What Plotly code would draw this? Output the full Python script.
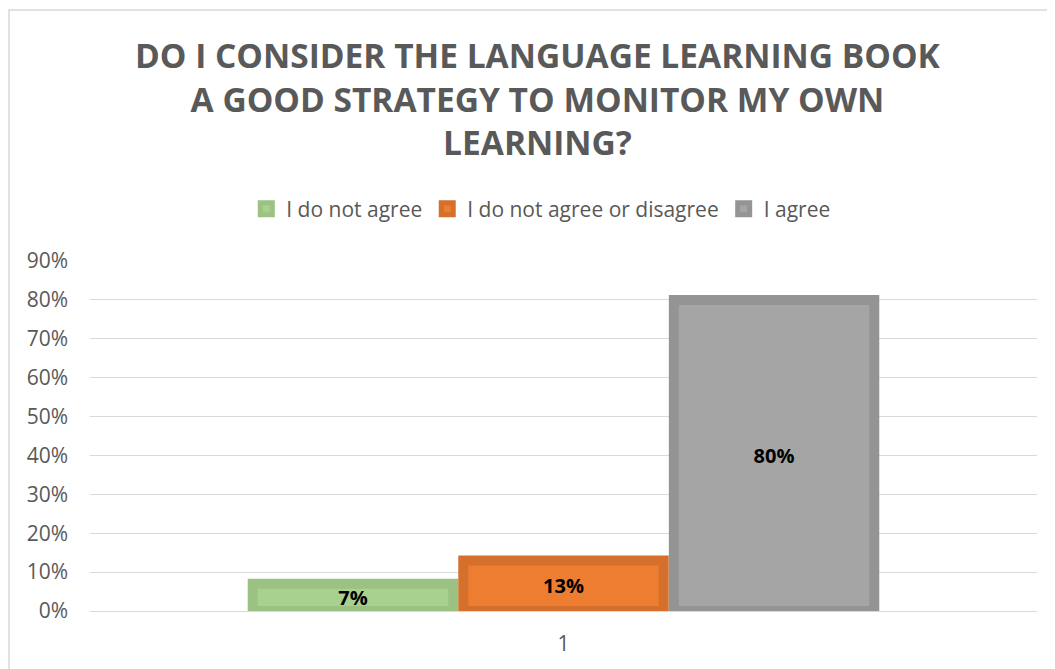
import plotly.graph_objects as go

categories = ["1"]
series_names = ["I do not agree", "I do not agree or disagree", "I agree"]
series_values = [[0.07], [0.13], [0.80]]
fill_colors = ["#a9d18e", "#ed7d31", "#a5a5a5"]
edge_colors = ["#9bc283", "#d4702c", "#949494"]
y_ticks = [0, 0.1, 0.2, 0.3, 0.4, 0.5, 0.6, 0.7, 0.8, 0.9]

title_text = ("DO I CONSIDER THE LANGUAGE LEARNING BOOK<br>"
              "A GOOD STRATEGY TO MONITOR MY OWN<br>LEARNING?")

# the page body adds an 8px margin, so the figure is 8px smaller
W, H = 1047, 661

fig = go.Figure()
for name, vals, fc, ec in zip(series_names, series_values, fill_colors, edge_colors):
    fig.add_bar(
        x=categories,
        y=vals,
        name=name,
        marker=dict(color=fc, line=dict(color=ec, width=10)),
        text=[f"{v:.0%}" for v in vals],
        textposition="inside",
        insidetextanchor="middle",
        constraintext="none",
        textfont=dict(family="Open Sans", size=20, color="#000000", weight="bold"),
        textangle=0,
    )

fig.update_layout(
    width=W,
    height=H,
    paper_bgcolor="white",
    plot_bgcolor="white",
    barmode="group",
    bargap=0.333,
    bargroupgap=0.048,
    margin=dict(l=82, r=18, t=253, b=58, autoexpand=False),
    font=dict(family="Open Sans", color="#595959"),
    title=dict(
        text=title_text,
        x=0.5057,
        xref="container",
        xanchor="center",
        y=1 - 60 / H,
        yref="container",
        yanchor="middle",
        font=dict(family="Open Sans", size=33.5, color="#595959", weight="bold"),
    ),
    legend=dict(
        orientation="h",
        x=0.476,
        xanchor="center",
        y=1.1486,
        yanchor="middle",
        font=dict(size=21, color="#595959"),
        traceorder="normal",
        itemwidth=30,
    ),
    showlegend=True,
    shapes=[dict(
        type="rect", xref="paper", yref="paper",
        x0=-0.0855, x1=1.05, y0=-0.3, y1=1.717,
        line=dict(color="#d9d9d9", width=1.5), layer="below",
    )],
)
fig.update_xaxes(
    automargin=False,
    showgrid=False,
    showline=True,
    linecolor="#d9d9d9",
    tickfont=dict(size=21, color="#595959"),
    ticks="",
    ticklabelstandoff=14,
)
fig.update_yaxes(
    automargin=False,
    range=[0, 0.9],
    tickvals=y_ticks,
    tickformat=".0%",
    showgrid=True,
    gridcolor="#d9d9d9",
    gridwidth=1,
    zeroline=False,
    showline=False,
    ticks="",
    ticklabelstandoff=21,
    tickfont=dict(size=21, color="#595959"),
)

fig.write_html("out.html")
